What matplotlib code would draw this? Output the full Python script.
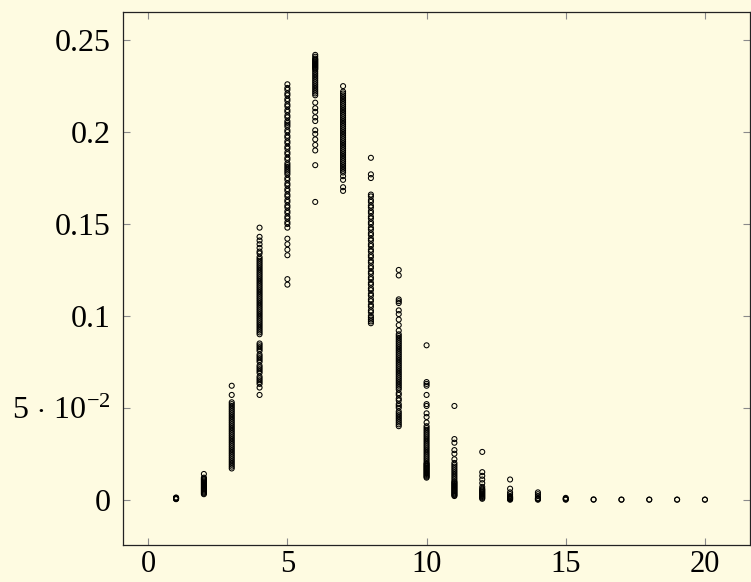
import matplotlib
matplotlib.use('Agg')
import matplotlib.pyplot as plt

# valeurs, une liste par colonne x
x_pos = list(range(1, 21))

col_1 = [0.0003, 0.0005, 0.0006, 0.0008, 0.0009, 0.0010, 0.0012]
col_2 = [0.0030, 0.0035, 0.0040, 0.0045, 0.0050, 0.0055, 0.0060, 0.0065, 0.0070,
         0.0075, 0.0080, 0.0085, 0.0090, 0.0095, 0.0100, 0.0105, 0.0110, 0.0115,
         0.0120, 0.0140]
col_3 = [0.017, 0.018, 0.019, 0.020, 0.021, 0.022, 0.023, 0.024, 0.025, 0.026,
         0.027, 0.028, 0.029, 0.030, 0.031, 0.032, 0.033, 0.034, 0.035, 0.036,
         0.037, 0.038, 0.039, 0.040, 0.041, 0.042, 0.043, 0.044, 0.045, 0.046,
         0.047, 0.048, 0.049, 0.050, 0.051, 0.052, 0.053, 0.057, 0.062]
col_4 = [0.057, 0.061, 0.063, 0.064, 0.065, 0.066, 0.067, 0.069, 0.070, 0.071,
         0.072, 0.073, 0.075, 0.076, 0.077, 0.078, 0.079, 0.081, 0.082, 0.083,
         0.084, 0.085, 0.090, 0.091, 0.092, 0.093, 0.094, 0.095, 0.096, 0.097,
         0.098, 0.099, 0.100, 0.101, 0.102, 0.103, 0.104, 0.105, 0.106, 0.107,
         0.108, 0.109, 0.110, 0.111, 0.112, 0.113, 0.114, 0.115, 0.116, 0.117,
         0.118, 0.119, 0.120, 0.121, 0.122, 0.123, 0.124, 0.125, 0.126, 0.127,
         0.128, 0.129, 0.130, 0.131, 0.132, 0.134, 0.135, 0.137, 0.139, 0.141,
         0.143, 0.148]
col_5 = [0.117, 0.120, 0.133, 0.136, 0.139, 0.142, 0.148, 0.150, 0.151, 0.153,
         0.154, 0.156, 0.157, 0.159, 0.160, 0.162, 0.163, 0.165, 0.166, 0.168,
         0.169, 0.171, 0.172, 0.174, 0.175, 0.177, 0.178, 0.179, 0.180, 0.181,
         0.182, 0.183, 0.185, 0.186, 0.188, 0.189, 0.191, 0.192, 0.194, 0.195,
         0.197, 0.198, 0.200, 0.201, 0.203, 0.204, 0.205, 0.206, 0.208, 0.209,
         0.211, 0.212, 0.214, 0.215, 0.217, 0.218, 0.220, 0.221, 0.223, 0.224,
         0.226]
col_6 = [0.162, 0.182, 0.190, 0.193, 0.196, 0.199, 0.201, 0.206, 0.208, 0.211,
         0.213, 0.216, 0.220, 0.221, 0.222, 0.223, 0.224, 0.225, 0.226, 0.227,
         0.228, 0.229, 0.230, 0.231, 0.232, 0.233, 0.234, 0.2345, 0.235, 0.2355,
         0.236, 0.2365, 0.237, 0.2375, 0.238, 0.2385, 0.239, 0.2395, 0.240, 0.241,
         0.242]
col_7 = [0.168, 0.170, 0.174, 0.176, 0.178, 0.179, 0.180, 0.181, 0.182, 0.183,
         0.184, 0.185, 0.186, 0.187, 0.188, 0.189, 0.190, 0.191, 0.192, 0.193,
         0.194, 0.195, 0.196, 0.197, 0.198, 0.199, 0.200, 0.201, 0.202, 0.203,
         0.204, 0.205, 0.206, 0.207, 0.208, 0.209, 0.210, 0.211, 0.212, 0.213,
         0.214, 0.215, 0.216, 0.217, 0.218, 0.219, 0.220, 0.221, 0.222, 0.225]
col_8 = [0.096, 0.097, 0.098, 0.099, 0.100, 0.102, 0.103, 0.105, 0.106, 0.108,
         0.109, 0.111, 0.112, 0.114, 0.115, 0.117, 0.118, 0.120, 0.121, 0.123,
         0.124, 0.126, 0.127, 0.129, 0.130, 0.132, 0.133, 0.135, 0.136, 0.138,
         0.139, 0.141, 0.142, 0.144, 0.145, 0.147, 0.148, 0.150, 0.151, 0.153,
         0.154, 0.156, 0.157, 0.159, 0.160, 0.162, 0.163, 0.165, 0.166, 0.175,
         0.177, 0.186]
col_9 = [0.040, 0.041, 0.042, 0.043, 0.044, 0.045, 0.046, 0.047, 0.048, 0.050,
         0.051, 0.052, 0.054, 0.055, 0.057, 0.058, 0.060, 0.061, 0.062, 0.063,
         0.064, 0.065, 0.066, 0.067, 0.068, 0.069, 0.070, 0.071, 0.072, 0.073,
         0.074, 0.075, 0.076, 0.077, 0.078, 0.079, 0.080, 0.081, 0.082, 0.083,
         0.084, 0.085, 0.086, 0.087, 0.088, 0.089, 0.090, 0.092, 0.095, 0.098,
         0.101, 0.103, 0.107, 0.108, 0.109, 0.122, 0.125]
col_10 = [0.012, 0.0125, 0.013, 0.0135, 0.014, 0.0145, 0.015, 0.0155, 0.016,
          0.0165, 0.017, 0.0175, 0.018, 0.0185, 0.019, 0.0195, 0.020, 0.021,
          0.022, 0.023, 0.024, 0.025, 0.026, 0.027, 0.028, 0.029, 0.030, 0.031,
          0.032, 0.033, 0.034, 0.035, 0.036, 0.037, 0.038, 0.039, 0.040, 0.042,
          0.045, 0.047, 0.051, 0.052, 0.057, 0.062, 0.063, 0.064, 0.084]
col_11 = [0.002, 0.0025, 0.003, 0.0035, 0.004, 0.0045, 0.005, 0.0055, 0.006,
          0.0065, 0.007, 0.0075, 0.008, 0.0085, 0.009, 0.0095, 0.010, 0.011,
          0.012, 0.013, 0.014, 0.015, 0.016, 0.017, 0.018, 0.019, 0.020, 0.022,
          0.025, 0.027, 0.031, 0.033, 0.051]
col_12 = [0.0005, 0.0010, 0.0015, 0.0020, 0.0025, 0.0030, 0.0035, 0.0040, 0.0045,
          0.0050, 0.0055, 0.0060, 0.0070, 0.009, 0.011, 0.013, 0.015, 0.026]
col_13 = [0.0000, 0.0003, 0.0006, 0.0009, 0.0012, 0.0015, 0.0020, 0.003, 0.004,
          0.006, 0.011]
col_14 = [0.0000, 0.0003, 0.0006, 0.0010, 0.002, 0.003, 0.004]
col_15 = [0.0000, 0.0003, 0.0006, 0.0010]
col_16 = [0.0000, 0.0002]
col_17 = [0.0000, 0.0001]
col_18 = [0.0000, 0.0001]
col_19 = [0.0000, 0.0001]
col_20 = [0.0000, 0.0001]

columns = [col_1, col_2, col_3, col_4, col_5, col_6, col_7, col_8, col_9, col_10,
           col_11, col_12, col_13, col_14, col_15, col_16, col_17, col_18, col_19,
           col_20]

y_ticks = [0, 0.05, 0.1, 0.15, 0.2, 0.25]
y_tick_labels = ['0', r'$5\,\cdot\,10^{-2}$', '0.1', '0.15', '0.2', '0.25']
x_ticks = [0, 5, 10, 15, 20]

bg = '#fefbe1'

plt.rcParams['font.family'] = ['Liberation Serif', 'DejaVu Serif']
plt.rcParams['mathtext.fontset'] = 'custom'
plt.rcParams['mathtext.rm'] = 'Liberation Serif'
plt.rcParams['mathtext.it'] = 'Liberation Serif:italic'

fig = plt.figure(figsize=(7.51, 5.82), dpi=100, facecolor=bg)
ax = fig.add_axes([0.164, 0.064, 0.8347, 0.915])
ax.set_facecolor(bg)

xs = []
ys = []
for xv, col in zip(x_pos, columns):
    xs += [xv] * len(col)
    ys += col

ax.scatter(xs, ys, s=13, facecolors='none', edgecolors='black', linewidths=0.75,
           zorder=3)

ax.set_xlim(-0.9, 21.62)
ax.set_ylim(-0.0245, 0.2652)
ax.set_xticks(x_ticks)
ax.set_xticklabels([str(t) for t in x_ticks])
ax.set_yticks(y_ticks)
ax.set_yticklabels(y_tick_labels)

ax.tick_params(direction='in', length=5, width=0.8, color='#8a8a8a',
               top=True, right=True, labelsize=23)
ax.tick_params(axis='y', pad=9)
ax.tick_params(axis='x', pad=4, labelsize=22)
for sp in ax.spines.values():
    sp.set_linewidth(0.9)
    sp.set_color('#222222')

plt.savefig('out.png', dpi=100, facecolor=bg)
plt.close()
